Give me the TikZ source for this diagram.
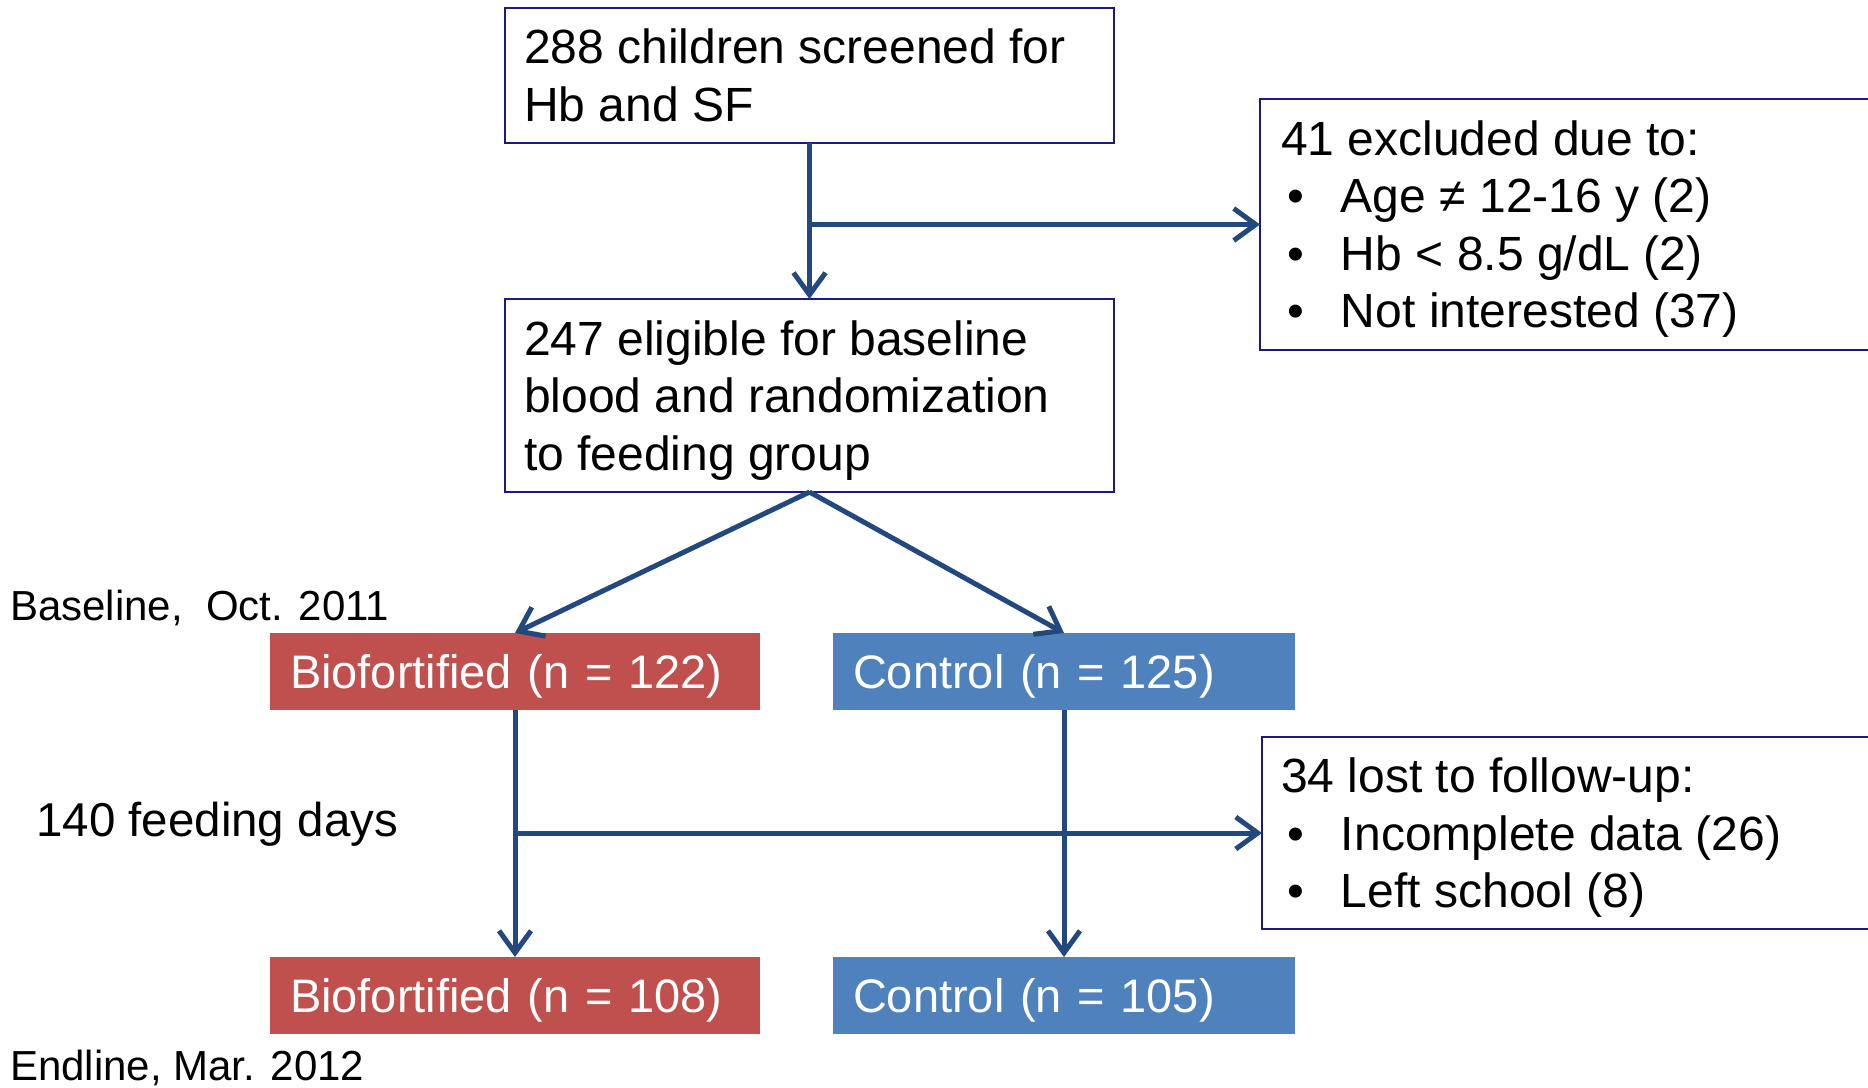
\documentclass[tikz,border=0pt]{standalone}
\usepackage{fontspec}
\setmainfont{Liberation Sans}
\usetikzlibrary{arrows.meta}
\definecolor{arrowblue}{RGB}{35,72,125}
\definecolor{boxline}{RGB}{25,25,140}
\definecolor{bioRed}{RGB}{192,80,77}
\definecolor{ctrlBlue}{RGB}{79,129,189}
\tikzset{
  big/.style={font=\fontsize{47}{57.5}\selectfont},
  boxfont/.style={font=\fontsize{48}{57.5}\selectfont},
  whitebox/.style={boxfont, draw=boxline, line width=2pt, fill=white, anchor=north west,
    inner xsep=19pt, inner ysep=0pt, outer sep=0pt},
  groupbox/.style={big, text=white, anchor=north west, text height=34pt, text depth=0pt,
    inner xsep=20pt, inner ysep=0pt, outer sep=0pt, minimum height=77pt},
  conn/.style={draw=arrowblue, line width=5pt},
  arr/.style={conn, -{Straight Barb[length=22pt,width=32pt,line width=5pt]}},
  sidelabel/.style={anchor=base west, inner sep=0pt},
}
\newcommand{\bul}{\makebox[60pt][l]{\hspace{6pt}•}}
% lines of a box: width, depth below the first baseline, text
\newcommand{\boxlines}[3]{\raisebox{0pt}[34pt][#2]{\parbox[t]{#1}{\raggedright #3}}}
\begin{document}
\begin{tikzpicture}[x=1pt,y=-1pt]
\useasboundingbox (0,0) rectangle (1868,1087);
\begin{scope}
\clip (0,0) rectangle (1868,1087);
% boxes
\node[whitebox, minimum width=609pt, minimum height=135pt] (screen) at (505,8)
  {\boxlines{571pt}{57.5pt}{288 children screened for\\Hb and SF}};
\node[whitebox, minimum width=634pt, minimum height=251pt, inner xsep=21pt] (excl) at (1260,99)
  {\boxlines{592pt}{172.5pt}{41 excluded due to:\\\bul Age ≠ 12-16 y (2)\\\bul Hb < 8.5 g/dL (2)\\\bul Not interested (37)}};
\node[whitebox, minimum width=609pt, minimum height=193pt] (elig) at (505,299)
  {\boxlines{571pt}{115pt}{247 eligible for baseline\\blood and randomization\\to feeding group}};
\node[groupbox, fill=bioRed, text width=450pt] (bio1) at (270,633) {Biofortified (n = 122)};
\node[groupbox, fill=ctrlBlue, text width=422pt] (ctrl1) at (833,633) {Control (n = 125)};
\node[whitebox, minimum width=628pt, minimum height=192pt, inner xsep=19pt] (lost) at (1262,737)
  {\boxlines{590pt}{115pt}{34 lost to follow-up:\\\bul Incomplete data (26)\\\bul Left school (8)}};
\node[groupbox, fill=bioRed, text width=450pt] (bio2) at (270,957) {Biofortified (n = 108)};
\node[groupbox, fill=ctrlBlue, text width=422pt] (ctrl2) at (833,957) {Control (n = 105)};
% side labels
\node[sidelabel, font=\fontsize{42}{50}\selectfont] (base) at (10,620) {Baseline,\ \ Oct. 2011};
\node[sidelabel, font=\fontsize{47.5}{57.5}\selectfont] (days) at (36,836) {140 feeding days};
\node[sidelabel, font=\fontsize{42}{50}\selectfont] (endl) at (10,1080) {Endline, Mar. 2012};
% connectors
\draw[arr] (screen.south) -- (elig.north);
\coordinate (br1) at (screen.south |- excl.west);
\draw[arr] (br1) -- (excl.west);
\draw[arr] (elig.south) -- (bio1.north);
\draw[arr] (elig.south) -- (ctrl1.north);
\draw[arr] (bio1.south) -- (bio2.north);
\draw[arr] (ctrl1.south) -- (ctrl2.north);
\coordinate (br2) at (bio1.south |- lost.west);
\draw[arr] (br2) -- (lost.west);
\end{scope}
\end{tikzpicture}
\end{document}
